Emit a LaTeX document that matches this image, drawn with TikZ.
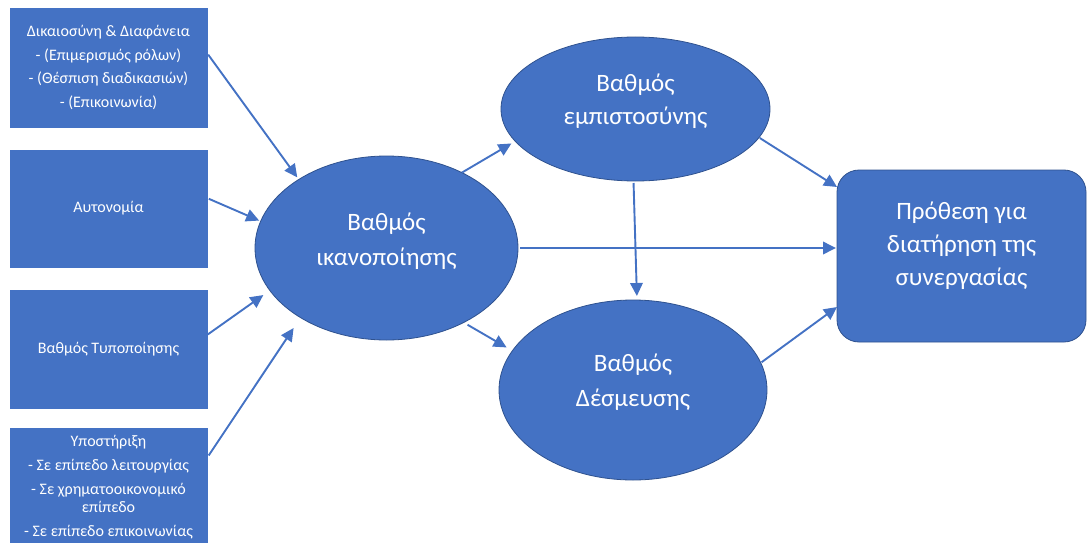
\documentclass[tikz,border=0pt]{standalone}
\usepackage{fontspec}
\setmainfont{Carlito}
\usetikzlibrary{shapes.geometric,arrows.meta}
\definecolor{officeblue}{RGB}{68,114,196}
\definecolor{officeedge}{RGB}{47,82,143}
\newcommand{\boxFont}{\fontsize{16}{17.5}\selectfont}
\newcommand{\bigFont}{\fontsize{25}{35}\selectfont}

\begin{document}
\begin{tikzpicture}[x=1pt, y=-1pt]
  \tikzset{factor/.style={draw=officeblue, fill=officeblue, text=white, align=center,
      minimum width=197pt, inner sep=2pt, outer sep=0pt, font=\boxFont},
    degree/.style={ellipse, draw=officeedge, line width=0.8pt, fill=officeblue, text=white,
      align=center, inner sep=0pt, outer sep=0pt, font=\bigFont},
    link/.style={draw=officeblue, line width=1.9pt, -{Triangle[length=13pt,width=12.5pt]}}}
  \clip (0,0) rectangle (1087,543);
  \node[factor, minimum height=119pt] (dk) at (108.5,67.5)
    {Δικαιοσύνη \& Διαφάνεια\\[6pt] - (Επιμερισμός ρόλων)\\[6pt] - (Θέσπιση διαδικασιών)\\[6pt] - (Επικοινωνία)};
  \node[factor, minimum height=117pt] (au) at (108.5,208.5) {Αυτονομία};
  \node[factor, minimum height=118pt] (ty) at (108.5,349) {Βαθμός Τυποποίησης};
  \node[factor, minimum height=118pt] (yp) at (108.5,487)
    {Υποστήριξη\\[6.5pt] - Σε επίπεδο λειτουργίας\\[6.5pt] - Σε χρηματοοικονομικό\\ επίπεδο\\[6.5pt] - Σε επίπεδο επικοινωνίας};
  \node[degree, minimum width=263pt, minimum height=184pt] (ik) at (386.5,248)
    {Βαθμός\\ικανοποίησης\\[-18pt]\mbox{}};
  \node[degree, minimum width=269pt, minimum height=144pt, font=\fontsize{25}{33}\selectfont] (em) at (635.5,109)
    {Βαθμός\\εμπιστοσύνης\\[-13pt]\mbox{}};
  \node[degree, minimum width=268pt, minimum height=180pt] (de) at (633,390)
    {Βαθμός\\Δέσμευσης\\[-16pt]\mbox{}};
  \node[draw=officeedge, line width=0.8pt, fill=officeblue, text=white, rounded corners=22pt,
    align=center, minimum width=249pt, minimum height=172pt, outer sep=0pt,
    font=\fontsize{25}{33}\selectfont] (pr) at (961.5,256)
    {Πρόθεση για\\διατήρηση της\\συνεργασίας\\[-9pt]\mbox{}};

  \draw[link, shorten <=2pt, shorten >=2.6pt] ([yshift=14.5pt]dk.east) -- (ik.142);
  \draw[link, shorten <=2pt, shorten >=1.7pt] ([yshift=10.5pt]au.east) -- (ik.168);
  \draw[link, shorten <=1pt, shorten >=8pt] ([yshift=14pt]ty.east) -- (ik.200);
  \draw[link, shorten <=3pt, shorten >=12.5pt] ([yshift=29pt]yp.east) -- (ik.219);
  \draw[link, shorten >=4.4pt] (ik.45) -- (em.195);
  \draw[link, shorten <=4.5pt, shorten >=6.7pt] (ik.-44) -- (de.162);
  \draw[link, shorten <=2pt, shorten >=1pt] (ik.east) -- (ik.east -| pr.west);
  \draw[link, shorten <=2pt, shorten >=4pt] ([xshift=-2pt]em.south) -- ([xshift=4pt]de.north);
  \draw[link, shorten <=1pt] (em.-13.5) -- ([yshift=69pt]pr.west);
  \draw[link, shorten <=1pt] (de.12) -- ([yshift=-51pt]pr.west);
\end{tikzpicture}
\end{document}
